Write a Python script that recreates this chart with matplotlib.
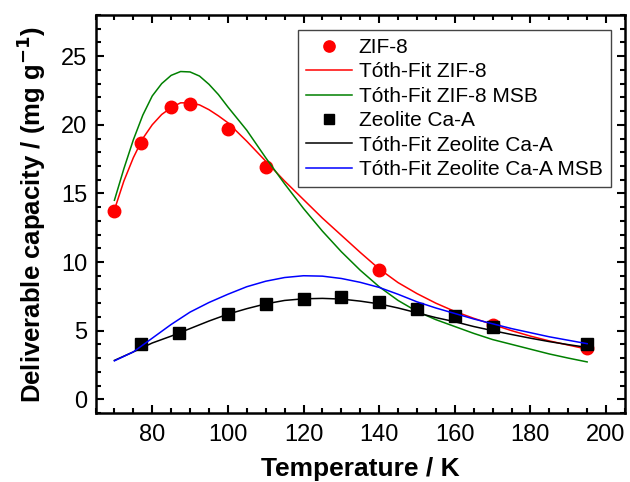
import matplotlib
matplotlib.use('Agg')
import matplotlib.pyplot as plt
from matplotlib.ticker import MultipleLocator

plt.rcParams['font.family'] = ['Liberation Sans', 'DejaVu Sans']

# measured points
T_ZIF = [70, 77, 85, 90, 100, 110, 140, 170, 195]
Q_ZIF = [13.7, 18.7, 21.3, 21.5, 19.7, 16.9, 9.4, 5.4, 3.75]
T_CAA = [77, 87, 100, 110, 120, 130, 140, 150, 160, 170, 195]
Q_CAA = [4.0, 4.8, 6.2, 6.95, 7.3, 7.45, 7.1, 6.6, 6.05, 5.3, 4.0]

# fit curves
T_FIT_ZIF = [70, 72.5, 75, 77.5, 80, 82.5, 85, 87.5, 90, 92.5, 95, 97.5, 100, 105, 110,
             115, 120, 125, 130, 135, 140, 145, 150, 155, 160, 165, 170, 175, 180, 185, 190, 195]
FIT_ZIF = [13.8, 15.9, 17.6, 19.0, 20.0, 20.75, 21.25, 21.6, 21.6, 21.45, 21.1, 20.65, 20.15, 18.8, 17.35,
           15.9, 14.55, 13.2, 11.95, 10.7, 9.5, 8.5, 7.7, 7.0, 6.4, 5.9, 5.45, 5.0, 4.6, 4.25, 3.95, 3.65]
FIT_ZIF_MSB = [14.5, 16.8, 18.9, 20.7, 22.1, 23.0, 23.6, 23.88, 23.85, 23.55, 22.95, 22.2, 21.3, 19.6, 17.6,
               15.7, 13.9, 12.25, 10.75, 9.4, 8.2, 7.2, 6.4, 5.8, 5.3, 4.8, 4.35, 4.0, 3.65, 3.3, 3.0, 2.72]
T_FIT_CAA = [70, 75, 80, 85, 90, 95, 100, 105, 110, 115, 120, 125, 130, 135, 140,
             145, 150, 155, 160, 165, 170, 175, 180, 185, 190, 195]
FIT_CAA = [2.83, 3.45, 4.1, 4.6, 5.15, 5.7, 6.2, 6.6, 6.95, 7.2, 7.32, 7.35, 7.3, 7.15, 6.95,
           6.65, 6.3, 5.95, 5.65, 5.3, 5.0, 4.72, 4.45, 4.2, 3.98, 3.78]
FIT_CAA_MSB = [2.8, 3.45, 4.45, 5.45, 6.35, 7.05, 7.65, 8.2, 8.6, 8.87, 9.0, 8.97, 8.8, 8.52, 8.15,
               7.65, 7.1, 6.65, 6.25, 5.85, 5.5, 5.15, 4.85, 4.55, 4.3, 4.05]

fig = plt.figure(figsize=(6.3, 4.82), dpi=100)
ax = fig.add_axes([0.1516, 0.1432, 0.8404, 0.8257])

ax.plot(T_ZIF, Q_ZIF, 'o', color='#ff0000', ms=9, label='ZIF-8')
ax.plot(T_FIT_ZIF, FIT_ZIF, '-', color='#ff0000', lw=1.1, label='Tóth-Fit ZIF-8')
ax.plot(T_FIT_ZIF, FIT_ZIF_MSB, '-', color='#008000', lw=1.1, label='Tóth-Fit ZIF-8 MSB')
ax.plot(T_CAA, Q_CAA, 's', color='black', ms=8, label='Zeolite Ca-A')
ax.plot(T_FIT_CAA, FIT_CAA, '-', color='black', lw=1.1, label='Tóth-Fit Zeolite Ca-A')
ax.plot(T_FIT_CAA, FIT_CAA_MSB, '-', color='#0000ff', lw=1.1, label='Tóth-Fit Zeolite Ca-A MSB')

ax.set_xlim(65, 205)
ax.set_ylim(-1, 28)
ax.xaxis.set_major_locator(MultipleLocator(20))
ax.xaxis.set_minor_locator(MultipleLocator(5))
ax.yaxis.set_major_locator(MultipleLocator(5))
ax.yaxis.set_minor_locator(MultipleLocator(1))
ax.tick_params(which='both', direction='in', top=True, right=True, width=1.5)
ax.tick_params(which='major', length=6, labelsize=17, pad=6)
ax.tick_params(axis='x', which='major', pad=8)
ax.tick_params(which='minor', length=3.5)
for s in ax.spines.values():
    s.set_linewidth(1.8)

ax.set_xlabel('Temperature / K', fontsize=19, fontweight='bold', labelpad=8)
ax.set_ylabel('Deliverable capacity / (mg g$^\\mathbf{-1}$)', fontsize=18.5, fontweight='bold', labelpad=9)

leg = ax.legend(loc='upper right', bbox_to_anchor=(0.973, 0.962), borderaxespad=0, fontsize=15,
                fancybox=False, edgecolor='#444444', framealpha=1, handlelength=2.2,
                handletextpad=0.35, labelspacing=0.26, borderpad=0.38, markerscale=0.9)
leg.get_frame().set_linewidth(1.0)

fig.savefig('out.png', dpi=100)
